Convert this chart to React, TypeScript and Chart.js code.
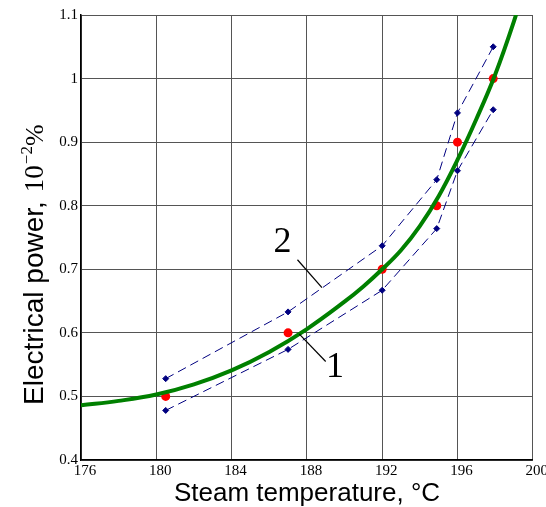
import React, { useEffect, useRef } from "react";
import { Chart, registerables } from "chart.js";
Chart.register(...registerables);

// Fitted curve (green)
const curveT = [176, 178, 180, 182, 184, 186, 188, 190, 191, 192, 193, 194, 195, 196, 197, 198, 199, 199.5];
const curveP = [0.486, 0.493, 0.503, 0.519, 0.541, 0.57, 0.606, 0.649, 0.673, 0.7, 0.73, 0.768, 0.815, 0.872, 0.936, 1.006, 1.09, 1.14];

// Measured points (red)
const measT = [180.5, 187, 192, 194.9, 196, 197.9];
const measP = [0.5, 0.6, 0.7, 0.8, 0.9, 1.0];

// Confidence band (blue dashed)
const upperP = [0.528, 0.633, 0.737, 0.841, 0.946, 1.05];
const lowerP = [0.478, 0.574, 0.667, 0.764, 0.855, 0.951];

const xTicks = [176, 180, 184, 188, 192, 196, 200];
const yTicks = [0.4, 0.5, 0.6, 0.7, 0.8, 0.9, 1.0, 1.1];

const xTitle = "Steam temperature, \u00B0C";
const yTitleMain = "Electrical power,";

export default function App() {
  const ref = useRef<HTMLCanvasElement | null>(null);
  useEffect(() => {
    const canvas = ref.current!;
    const toXY = (xs: number[], ys: number[]) => xs.map((x, i) => ({ x, y: ys[i] }));
    const navy = "#000080";

    const overlay = {
      id: "overlay",
      afterDraw(chart: any) {
        const ctx = chart.ctx as CanvasRenderingContext2D;
        const xs = chart.scales.x;
        const ys = chart.scales.y;
        ctx.save();
        // x title
        ctx.fillStyle = "#000";
        ctx.font = "26px 'Liberation Sans', Arial, sans-serif";
        ctx.textAlign = "center";
        ctx.textBaseline = "alphabetic";
        ctx.fillText(xTitle, 307, 501);
        // y title rotated
        ctx.save();
        ctx.translate(43, 405);
        ctx.rotate(-Math.PI / 2);
        ctx.textAlign = "left";
        ctx.font = "28px 'Liberation Sans', Arial, sans-serif";
        ctx.fillText(yTitleMain, 0, 0);
        let w = ctx.measureText(yTitleMain).width + 9;
        ctx.font = "27px 'Liberation Serif', 'Times New Roman', serif";
        ctx.fillText("10", w, 0);
        w += ctx.measureText("10").width + 1;
        ctx.font = "17px 'Liberation Serif', 'Times New Roman', serif";
        ctx.fillText("\u22122", w, -11);
        w += ctx.measureText("\u22122").width;
        ctx.font = "26px 'Liberation Serif', 'Times New Roman', serif";
        ctx.fillText("%", w, 0);
        ctx.restore();
        // curve labels with leader lines
        ctx.strokeStyle = "#000";
        ctx.lineWidth = 1.2;
        const line = (a: number[], b: number[]) => {
          ctx.beginPath();
          ctx.moveTo(xs.getPixelForValue(a[0]), ys.getPixelForValue(a[1]));
          ctx.lineTo(xs.getPixelForValue(b[0]), ys.getPixelForValue(b[1]));
          ctx.stroke();
        };
        line([187.5, 0.715], [188.8, 0.671]);
        line([187.6, 0.598], [189.0, 0.555]);
        ctx.font = "36px 'Liberation Serif', 'Times New Roman', serif";
        ctx.textAlign = "center";
        ctx.textBaseline = "middle";
        ctx.fillText("2", xs.getPixelForValue(186.7), ys.getPixelForValue(0.742));
        ctx.fillText("1", xs.getPixelForValue(189.5), ys.getPixelForValue(0.546));
        ctx.restore();
      },
    };

    const chart = new Chart(canvas, {
      type: "line",
      data: {
        datasets: [
          {
            label: "upper",
            data: toXY(measT, upperP),
            borderColor: navy,
            borderWidth: 1,
            borderDash: [9, 5],
            pointStyle: "rectRot",
            pointRadius: 3,
            pointBackgroundColor: navy,
            pointBorderColor: navy,
            tension: 0,
            fill: false,
          },
          {
            label: "lower",
            data: toXY(measT, lowerP),
            borderColor: navy,
            borderWidth: 1,
            borderDash: [9, 5],
            pointStyle: "rectRot",
            pointRadius: 3,
            pointBackgroundColor: navy,
            pointBorderColor: navy,
            tension: 0,
            fill: false,
          },
          {
            label: "curve",
            data: toXY(curveT, curveP),
            borderColor: "#008000",
            borderWidth: 4,
            pointRadius: 0,
            tension: 0.4,
            fill: false,
          },
          {
            label: "measured",
            data: toXY(measT, measP),
            showLine: false,
            pointRadius: 4.5,
            pointBackgroundColor: "#ff0000",
            pointBorderColor: "#ff0000",
            borderWidth: 0,
          },
        ],
      },
      options: {
        responsive: false,
        animation: false,
        layout: { padding: { top: 15, right: 13, left: 0, bottom: 0 } },
        plugins: { legend: { display: false }, tooltip: { enabled: false } },
        scales: {
          x: {
            type: "linear",
            min: 176,
            max: 200,
            afterBuildTicks: (s: any) => {
              s.ticks = xTicks.map((v) => ({ value: v }));
            },
            afterFit: (s: any) => {
              s.height = 47;
            },
            ticks: {
              color: "#000",
              font: { family: "'Liberation Serif', 'Times New Roman', serif", size: 15 },
              padding: 2,
              labelOffset: 4,
              maxRotation: 0,
              autoSkip: false,
              callback: (v: any) => String(v),
            },
            grid: { color: "#555", lineWidth: 1, drawTicks: false },
            border: { color: "#000", width: 1.5 },
          },
          y: {
            type: "linear",
            min: 0.4,
            max: 1.1,
            afterBuildTicks: (s: any) => {
              s.ticks = yTicks.map((v) => ({ value: v }));
            },
            afterFit: (s: any) => {
              s.width = 81;
            },
            ticks: {
              color: "#000",
              font: { family: "'Liberation Serif', 'Times New Roman', serif", size: 15 },
              padding: 3,
              autoSkip: false,
              callback: (v: any) => String(Number(Number(v).toFixed(1))),
            },
            grid: { color: "#555", lineWidth: 1, drawTicks: false },
            border: { color: "#000", width: 1.5 },
          },
        },
      },
      plugins: [overlay],
    } as any);
    return () => chart.destroy();
  }, []);
  return (
    <div style={{ position: "absolute", left: 0, top: 0, width: 546, height: 507, background: "#fff" }}>
      <canvas ref={ref} width={546} height={507} style={{ display: "block" }} />
    </div>
  );
}
